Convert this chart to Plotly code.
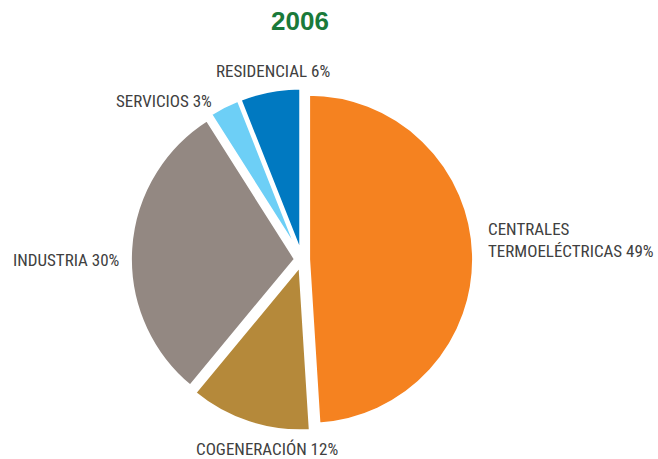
import plotly.graph_objects as go

sectors = ["CENTRALES<br>TERMOELÉCTRICAS", "COGENERACIÓN", "INDUSTRIA", "SERVICIOS", "RESIDENCIAL"]
shares = [49, 12, 30, 3, 6]
colors = ["#F58220", "#B5893A", "#938882", "#6DCFF6", "#0079C1"]
year = "2006"

W, H = 658, 459
pull = 0.04
cx, cy, r = 302, 259.5, 165
rmax = r * (1 + pull)

fig = go.Figure(
    go.Pie(
        labels=sectors,
        values=shares,
        sort=False,
        direction="clockwise",
        rotation=0,
        marker=dict(colors=colors, line=dict(color="white", width=3)),
        pull=[pull] * len(shares),
        textinfo="none",
        hoverinfo="label+percent",
        domain=dict(
            x=[(cx - rmax) / W, (cx + rmax) / W],
            y=[(H - cy - rmax) / H, (H - cy + rmax) / H],
        ),
    )
)

# label placement in px: x, y, xanchor
label_pos = [
    (486, 240, "left"),
    (267, 449, "center"),
    (66, 260, "center"),
    (164, 101, "center"),
    (273, 71, "center"),
]
font_family = "Liberation Sans Narrow, Roboto Condensed, DejaVu Sans Condensed, sans-serif"
for name, val, (x, y, xa) in zip(sectors, shares, label_pos):
    fig.add_annotation(
        x=x / W, y=1 - y / H, xref="paper", yref="paper",
        text=f"{name} {val}%", showarrow=False, xanchor=xa, yanchor="middle",
        align="left", font=dict(family=font_family, size=17, color="#404040"),
    )

fig.add_annotation(
    x=300 / W, y=1 - 21 / H, xref="paper", yref="paper", text=f"<b>{year}</b>",
    showarrow=False, xanchor="center", yanchor="middle",
    font=dict(family="Liberation Sans, Arial, sans-serif", size=26, color="#1A7A3A"),
)

fig.update_layout(
    width=W,
    height=H,
    margin=dict(l=0, r=0, t=0, b=0),
    showlegend=False,
    paper_bgcolor="white",
)
# drop the page's default body margin so the figure fills the window
fig.write_html(
    "out.html",
    config={"displayModeBar": False},
    post_script="document.body.style.margin='0';document.body.style.overflow='hidden';",
)
